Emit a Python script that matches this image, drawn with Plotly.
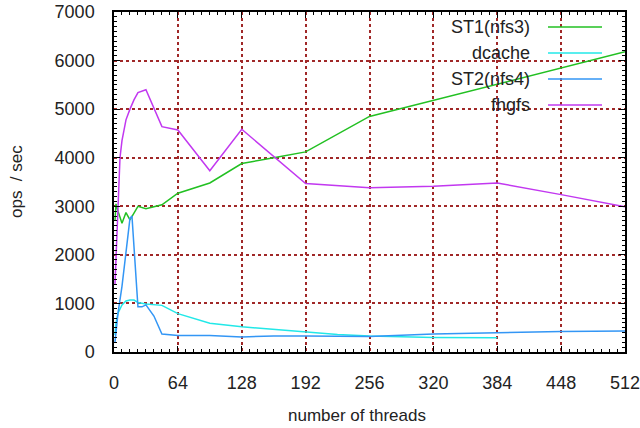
import plotly.graph_objects as go

# ---- data ----
st1_x = [1, 2, 4, 8, 12, 16, 24, 32, 48, 64, 96, 128, 160, 192, 256, 320, 384, 448, 512]
st1_y = [2700, 3050, 2900, 2650, 2870, 2720, 3000, 2950, 3030, 3270, 3480, 3880, 4000, 4120, 4850, 5180, 5510, 5850, 6180]

dcache_x = [1, 2, 4, 8, 12, 16, 20, 24, 32, 48, 64, 96, 128, 160, 192, 224, 256, 320, 384]
dcache_y = [350, 600, 800, 970, 1050, 1070, 1070, 1020, 990, 960, 790, 590, 520, 470, 410, 360, 330, 300, 295]

st2_x = [1, 2, 4, 8, 12, 16, 18, 24, 28, 32, 40, 48, 64, 96, 128, 160, 192, 256, 320, 384, 448, 512]
st2_y = [200, 400, 800, 1350, 2050, 2750, 2800, 930, 930, 970, 740, 370, 340, 340, 310, 330, 330, 320, 370, 400, 420, 430]

fhgfs_x = [1, 4, 6, 8, 12, 16, 20, 24, 32, 48, 64, 96, 128, 192, 256, 320, 384, 448, 512]
fhgfs_y = [1400, 3000, 4000, 4350, 4780, 5000, 5190, 5340, 5400, 4640, 4570, 3730, 4585, 3470, 3380, 3410, 3480, 3240, 2990]

names = ["ST1(nfs3)", "dcache", "ST2(nfs4)", "fhgfs"]
colors = ["#22c022", "#22e8e8", "#3396f5", "#c238f0"]
series_x = [st1_x, dcache_x, st2_x, fhgfs_x]
series_y = [st1_y, dcache_y, st2_y, fhgfs_y]

x_ticks = [0, 64, 128, 192, 256, 320, 384, 448, 512]
y_ticks = [0, 1000, 2000, 3000, 4000, 5000, 6000, 7000]

FONT = "Liberation Sans, Arial, sans-serif"
W, H = 640, 428
# target plot area in window pixels: x 114..625, y 12..352
L, R, T, B = 114, 640 - 625, 12, 428 - 352
PW, PH = W - L - R, H - T - B


def px_to_paper_x(px):
    return (px - L) / PW


def px_to_paper_y(py):
    return (H - B - py) / PH


fig = go.Figure()
for nm, c, xs, ys in zip(names, colors, series_x, series_y):
    fig.add_trace(go.Scatter(x=xs, y=ys, mode="lines", name=nm,
                             line=dict(color=c, width=1.5), showlegend=False))

# gnuplot-style legend: right-aligned text followed by a line sample
row_y = [27, 53, 79, 105]  # px from top of window
for nm, c, ry in zip(names, colors, row_y):
    fig.add_annotation(xref="paper", yref="paper", x=px_to_paper_x(532),
                       y=px_to_paper_y(ry), text=nm, showarrow=False,
                       xanchor="right", yanchor="middle",
                       font=dict(family=FONT, size=18, color="#222222"))
    fig.add_shape(type="line", xref="paper", yref="paper",
                  x0=px_to_paper_x(548), x1=px_to_paper_x(602),
                  y0=px_to_paper_y(ry), y1=px_to_paper_y(ry),
                  line=dict(color=c, width=1.5))

axis_common = dict(
    showline=True, linecolor="black", linewidth=1.5, mirror="allticks",
    ticks="inside", ticklen=6, tickcolor="black", tickwidth=1,
    showgrid=True, gridcolor="#a02828", griddash="dot", gridwidth=1.5,
    zeroline=False, automargin=False, ticklabeloverflow="allow",
    tickfont=dict(family=FONT, size=18, color="#222222"),
)

fig.update_xaxes(range=[0, 512], tickvals=x_ticks, ticktext=[str(v) for v in x_ticks],
                 minor=dict(tickvals=list(range(0, 513, 8)), ticks="inside", ticklen=3,
                            tickcolor="black", showgrid=False),
                 ticklabelstandoff=14, **axis_common)
fig.update_yaxes(range=[0, 7000], tickvals=y_ticks, ticktext=[str(v) for v in y_ticks],
                 minor=dict(tickvals=list(range(0, 7001, 100)), ticks="inside", ticklen=3,
                            tickcolor="black", showgrid=False),
                 ticklabelstandoff=14, **axis_common)

fig.add_annotation(xref="paper", yref="paper", x=px_to_paper_x(357), y=px_to_paper_y(415),
                   text="number of threads", showarrow=False, xanchor="center", yanchor="middle",
                   font=dict(family=FONT, size=17, color="#222222"))
fig.add_annotation(xref="paper", yref="paper", x=px_to_paper_x(16), y=0.5,
                   text="ops\u00a0 / sec", showarrow=False, textangle=-90, xanchor="center", yanchor="middle",
                   font=dict(family=FONT, size=17, color="#222222"))

fig.update_layout(
    width=W, height=H,
    margin=dict(l=L, r=R, t=T, b=B, autoexpand=False),
    plot_bgcolor="white", paper_bgcolor="white",
    showlegend=False,
)

fig.write_html("out.html", config={"displayModeBar": False},
               post_script="document.body.style.margin='0px';document.body.style.overflow='hidden';")
